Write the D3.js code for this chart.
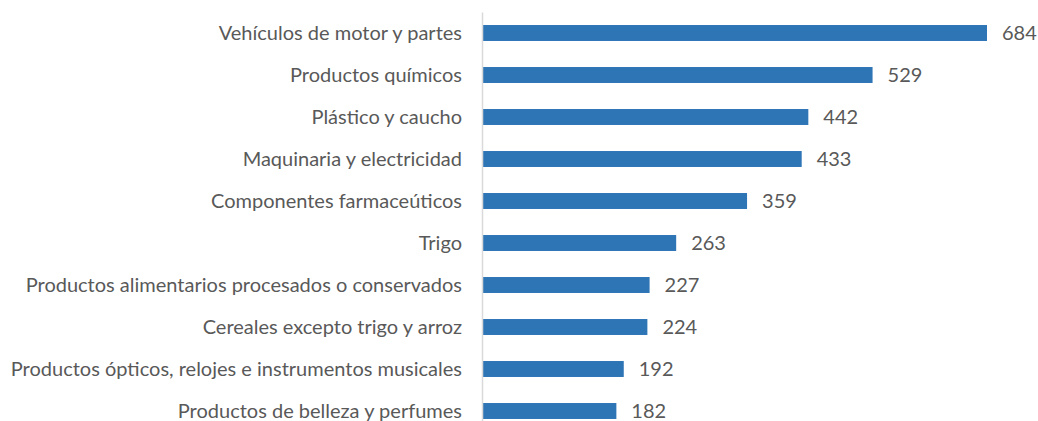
<!DOCTYPE html>
<html>
<head>
<meta charset="utf-8">
<script src="https://cdn.jsdelivr.net/npm/d3@7"></script>
<style>
  body { margin: 0; background: #fff; }
  svg text { font-family: Lato, sans-serif; fill: #595959; }
</style>
</head>
<body>
<div id="chart"></div>
<script>
// categories, top to bottom
var categories = [
  "Vehículos de motor y partes",
  "Productos químicos",
  "Plástico y caucho",
  "Maquinaria y electricidad",
  "Componentes farmaceúticos",
  "Trigo",
  "Productos alimentarios procesados o conservados",
  "Cereales excepto trigo y arroz",
  "Productos ópticos, relojes e instrumentos musicales",
  "Productos de belleza y perfumes"
];
var values = [684, 529, 442, 433, 359, 263, 227, 224, 192, 182];

var width = 1038, height = 421;
var axisX = 482;
var fontSize = "20px";

var svg = d3.select("#chart").append("svg")
  .attr("width", width).attr("height", height);

var x = d3.scaleLinear()
  .domain([0, 684])
  .range([axisX, 987]);

var y = d3.scaleBand()
  .domain(categories)
  .range([12, 432])
  .paddingInner(0.62)
  .paddingOuter(0.31);

// bars
svg.append("g").selectAll("rect")
  .data(values)
  .enter().append("rect")
  .attr("x", x(0))
  .attr("y", (d, i) => y(categories[i]))
  .attr("width", d => x(d) - x(0))
  .attr("height", y.bandwidth())
  .attr("fill", "#2e75b6");

// value labels
svg.append("g").selectAll("text")
  .data(values)
  .enter().append("text")
  .attr("x", d => x(d) + 15)
  .attr("y", (d, i) => y(categories[i]) + y.bandwidth() / 2)
  .attr("dy", "0.33em")
  .attr("font-size", fontSize)
  .text(d => d);

// category axis
var yAxis = d3.axisLeft(y).tickSize(0).tickPadding(20);
var g = svg.append("g")
  .attr("transform", "translate(" + axisX + ",0)")
  .call(yAxis);
g.select(".domain").attr("stroke", "#d9d9d9").attr("stroke-width", 1.5);
g.selectAll("text")
  .attr("font-size", fontSize)
  .attr("dy", "0.33em")
  .style("font-family", "Lato, sans-serif")
  .attr("fill", "#595959");
</script>
</body>
</html>
